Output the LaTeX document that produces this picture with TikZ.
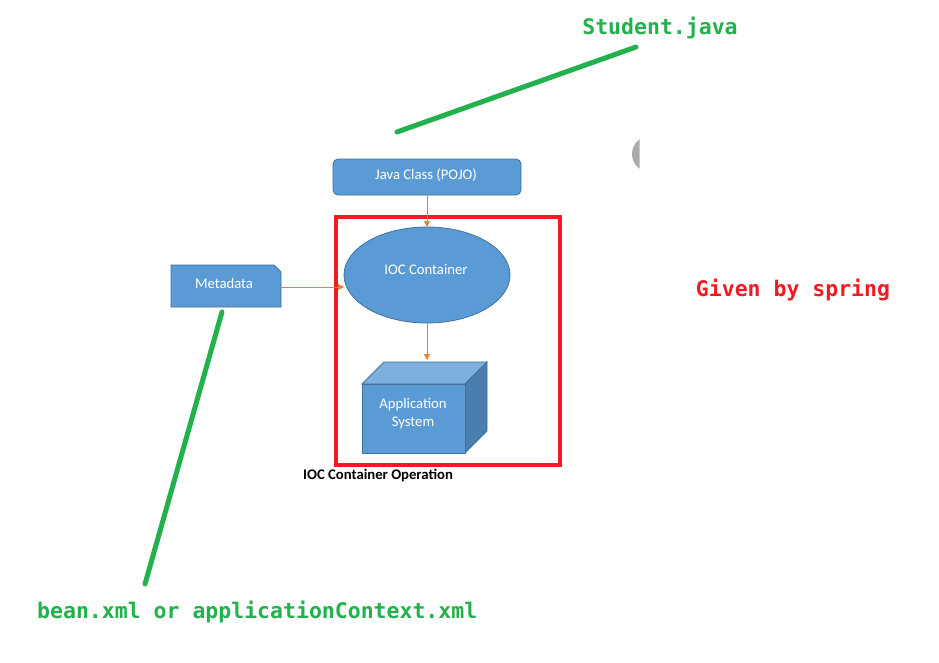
\documentclass[tikz,border=0pt]{standalone}
\usepackage{fontspec}
\setmainfont{Carlito}
\newfontfamily\monof{DejaVu Sans Mono}
\usetikzlibrary{arrows.meta}
\definecolor{boxblue}{HTML}{5B9BD5}
\definecolor{boxedge}{HTML}{41719C}
\definecolor{boxtop}{HTML}{7DB0DE}
\definecolor{boxside}{HTML}{4A7EAF}
\definecolor{arrorange}{HTML}{ED7D31}
\definecolor{pgreen}{HTML}{22B14C}
\definecolor{pred}{HTML}{ED1C24}
\definecolor{pgray}{HTML}{ABABAB}
\tikzset{
  shapebox/.style={fill=boxblue, draw=boxedge, line width=0.8pt, text=white, font=\fontsize{14.7}{17}\selectfont},
  intext/.style={text=white, font=\fontsize{14.7}{18}\selectfont},
  flow/.style={draw=arrorange, line width=0.8pt, -{Triangle[length=6pt,width=6pt]}},
  marker/.style={draw=pgreen, line width=5pt, line cap=round},
  monolabel/.style={font=\monof\bfseries\fontsize{21.5}{24}\selectfont, inner sep=0pt},
}
\begin{document}
\begin{tikzpicture}[x=1pt,y=-1pt]
\useasboundingbox[fill=white] (0,0) rectangle (939,662);
% Java class
\node[shapebox, rounded corners=5pt, minimum width=188pt, minimum height=36pt] (java) at (427,177) {};
\node[intext] (javatext) at (426,175) {Java Class (POJO)};
% red frame
\node[draw=pred, line width=4pt, minimum width=224pt, minimum height=248pt, inner sep=0pt] (frame) at (448,341) {};
% ellipse
\draw[shapebox] (427,275) ellipse [x radius=83, y radius=48];
\node[intext] (ioc) at (426,269) {IOC Container};
\coordinate (iocN) at (427,227);
\coordinate (iocS) at (427,323);
\coordinate (iocW) at (344,287);
% cube
\fill[boxtop, draw=boxedge, line width=0.8pt] (362,384) -- (384,362) -- (487,362) -- (465,384) -- cycle;
\fill[boxside, draw=boxedge, line width=0.8pt] (465,384) -- (487,362) -- (487,431) -- (465,453) -- cycle;
\node[shapebox, minimum width=103pt, minimum height=69pt, inner sep=0pt] (app) at (413.5,418.5) {};
\node[intext, align=center] (apptext) at (413,413.5) {Application\\System};
\coordinate (cubeTop) at (427,360);
% metadata card
\draw[shapebox] (171,265) -- (274,265) -- (281,272) -- (281,307) -- (171,307) -- cycle;
\node[intext] (meta) at (224,283) {Metadata};
\coordinate (metaE) at (281,287);
% arrows
\draw[flow] (java.south) -- (iocN);
\draw[flow] (iocS) -- (cubeTop);
\draw[flow] (metaE) -- (iocW);
% caption
\node[font=\bfseries\fontsize{14.7}{17}\selectfont, anchor=west, inner sep=0pt] (cap) at (303,475) {IOC Container Operation};
% labels
\node[monolabel, text=pred] (given) at (793,290) {Given by spring};
\node[monolabel, text=pgreen] (student) at (660,28) {Student.java};
\node[monolabel, text=pgreen, anchor=west] (bean) at (37,612) {bean.xml or applicationContext.xml};
% green markers
\coordinate (m1a) at (397,132);
\coordinate (m1b) at (636,47);
\coordinate (m2a) at (222,312);
\coordinate (m2b) at (145,584);
\draw[marker] (m1a) -- (m1b);
\draw[marker] (m2a) -- (m2b);
% gray half circle
\begin{scope}
\clip (600,130) rectangle (639.5,180);
\fill[pgray] (650,154) circle [radius=18];
\end{scope}
\end{tikzpicture}
\end{document}
